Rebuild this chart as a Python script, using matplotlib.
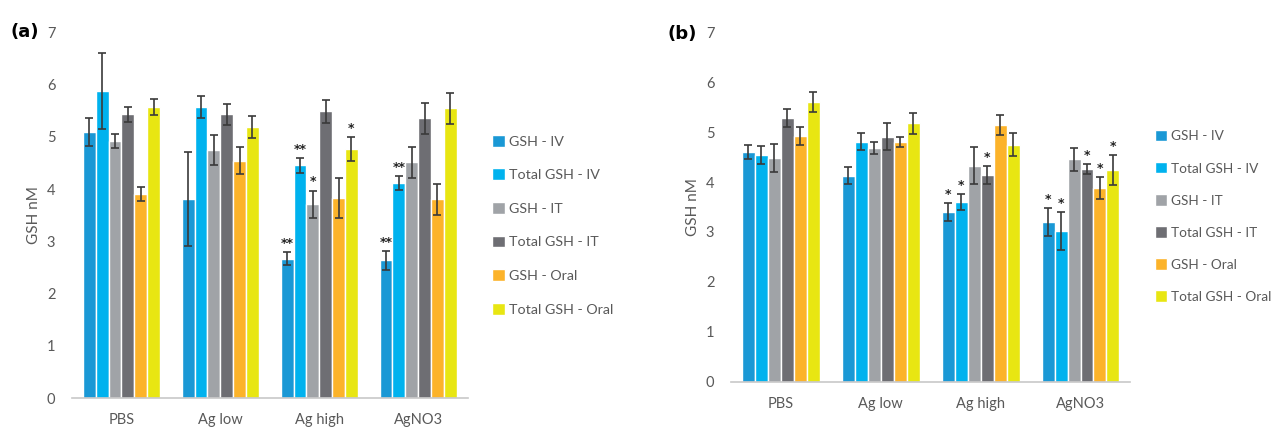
import matplotlib.pyplot as plt
import numpy as np

plt.rcParams['font.family'] = ['Lato', 'DejaVu Sans']

CATEGORIES = ["PBS", "Ag low", "Ag high", "AgNO3"]
SERIES = ["GSH - IV", "Total GSH - IV", "GSH - IT", "Total GSH - IT",
          "GSH - Oral", "Total GSH - Oral"]
COLORS = ['#1a98d5', '#00b2ee', '#a0a3a7', '#6e6e73', '#fcb32a', '#e8e612']

# panel (a): rows = series, columns = categories
a_values = [
    [5.09, 3.81, 2.67, 2.64],
    [5.88, 5.57, 4.45, 4.12],
    [4.92, 4.74, 3.71, 4.51],
    [5.43, 5.43, 5.49, 5.35],
    [3.90, 4.54, 3.83, 3.80],
    [5.57, 5.18, 4.76, 5.54],
]
a_errors = [
    [0.26, 0.90, 0.12, 0.18],
    [0.73, 0.21, 0.15, 0.13],
    [0.14, 0.29, 0.26, 0.30],
    [0.14, 0.20, 0.22, 0.30],
    [0.13, 0.26, 0.38, 0.30],
    [0.15, 0.21, 0.23, 0.29],
]
a_stars = [
    ["", "", "**", "**"],
    ["", "", "**", "**"],
    ["", "", "*", ""],
    ["", "", "", ""],
    ["", "", "", ""],
    ["", "", "*", ""],
]

# panel (b)
b_values = [
    [4.61, 4.13, 3.40, 3.19],
    [4.54, 4.81, 3.60, 3.02],
    [4.48, 4.68, 4.33, 4.46],
    [5.29, 4.91, 4.15, 4.27],
    [4.92, 4.80, 5.14, 3.89],
    [5.60, 5.18, 4.75, 4.24],
]
b_errors = [
    [0.14, 0.17, 0.18, 0.28],
    [0.18, 0.17, 0.16, 0.38],
    [0.28, 0.12, 0.37, 0.23],
    [0.18, 0.27, 0.18, 0.10],
    [0.18, 0.10, 0.20, 0.22],
    [0.20, 0.21, 0.23, 0.30],
]
b_stars = [
    ["", "", "*", "*"],
    ["", "", "*", "*"],
    ["", "", "", ""],
    ["", "", "*", "*"],
    ["", "", "", "*"],
    ["", "", "", "*"],
]

TEXT = '#595959'


def draw_panel(ax, values, errors, stars, legend_anchor, spacing, legend_size):
    x = np.arange(len(CATEGORIES))
    n = len(SERIES)
    w = 0.78 / n
    for i in range(n):
        pos = x + (i - (n - 1) / 2) * w
        ax.bar(pos, values[i], w, color=COLORS[i], edgecolor='white',
               linewidth=1.0, label=SERIES[i])
        ax.errorbar(pos, values[i], yerr=errors[i], fmt='none',
                    ecolor='#3a3a3a', elinewidth=1.2, capsize=3, capthick=1.2)
        for j in range(len(CATEGORIES)):
            if stars[i][j]:
                ax.text(pos[j], values[i][j] + errors[i][j] + 0.04, stars[i][j],
                        ha='center', va='bottom', fontsize=9,
                        fontweight='bold', color='#222222',
                        family='DejaVu Sans')
    ax.set_ylim(0, 7)
    ax.set_xlim(-0.5, len(CATEGORIES) - 0.5)
    ax.set_yticks(range(8))
    ax.set_xticks(x)
    ax.set_xticklabels(CATEGORIES)
    ax.tick_params(axis='both', length=0, labelsize=10.5, colors=TEXT)
    ax.tick_params(axis='x', pad=11)
    ax.tick_params(axis='y', pad=12)
    for s in ['top', 'right', 'left']:
        ax.spines[s].set_visible(False)
    ax.spines['bottom'].set_color('#c8c8c8')
    ax.spines['bottom'].set_linewidth(1.2)
    ax.set_ylabel("GSH nM", fontsize=11, color=TEXT, labelpad=4)
    ax.legend(loc='upper left', bbox_to_anchor=legend_anchor, frameon=False,
              fontsize=legend_size, labelspacing=spacing, handlelength=0.9,
              handleheight=0.9, handletextpad=0.3, labelcolor=TEXT)


fig = plt.figure(figsize=(12.72, 4.29), dpi=100)
ax_a = fig.add_axes([0.0566, 0.072, 0.311, 0.853])
ax_b = fig.add_axes([0.5747, 0.110, 0.314, 0.815])

draw_panel(ax_a, a_values, a_errors, a_stars, (1.03, 0.755), 1.45, 10.3)
draw_panel(ax_b, b_values, b_errors, b_stars, (1.03, 0.755), 1.45, 9.8)

fig.text(0.008, 0.925, "(a)", fontsize=13, fontweight='bold', va='center',
         family='DejaVu Sans')
fig.text(0.525, 0.920, "(b)", fontsize=13, fontweight='bold', va='center',
         family='DejaVu Sans')

fig.savefig("out.png", dpi=100)
